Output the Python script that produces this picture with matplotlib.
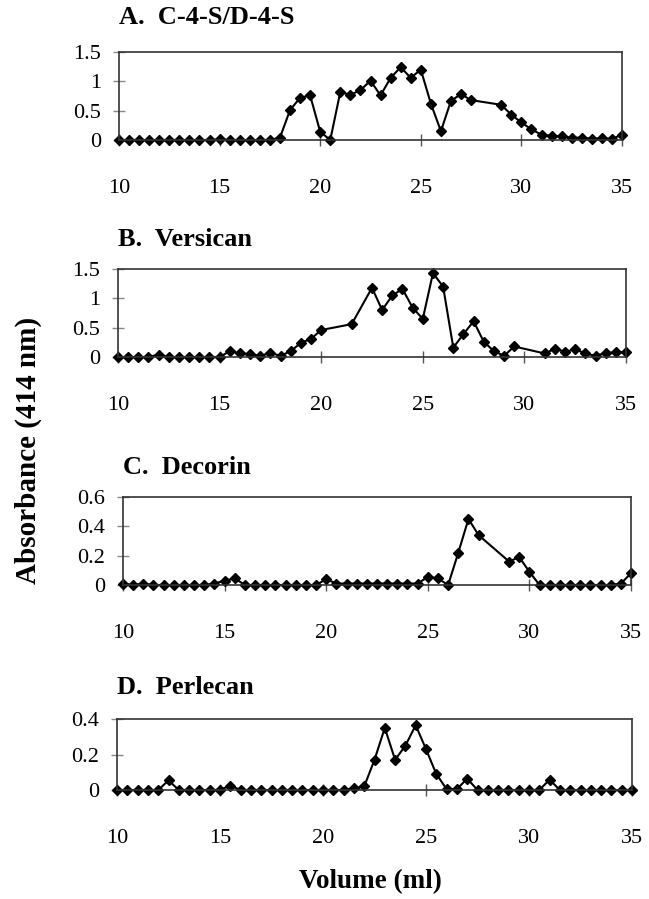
"""
Gel-filtration profiles (absorbance at 414 nm) for four proteoglycan fractions.
"""
import matplotlib
matplotlib.use("Agg")
from matplotlib import pyplot as plt

plt.rcParams['font.family'] = ['Liberation Serif', 'DejaVu Serif']

# panel A: C-4-S/D-4-S
vol_a = [10, 10.5, 11, 11.5, 12, 12.5, 13, 13.5, 14, 14.5, 15, 15.5, 16, 16.5, 17, 17.5,
         18, 18.5, 19, 19.5, 20, 20.5, 21, 21.5, 22, 22.5, 23, 23.5, 24, 24.5, 25, 25.5,
         26, 26.5, 27, 27.5, 29, 29.5, 30, 30.5, 31, 31.5, 32, 32.5, 33, 33.5, 34, 34.5, 35]
abs_a = [0, 0, 0, 0, 0, 0, 0, 0, 0, 0, 0.01, 0, 0, 0, 0, 0,
         0.04, 0.51, 0.72, 0.76, 0.14, 0, 0.82, 0.77, 0.85, 1.01, 0.76, 1.06, 1.24, 1.06, 1.2, 0.62,
         0.15, 0.67, 0.78, 0.68, 0.6, 0.43, 0.3, 0.18, 0.09, 0.07, 0.06, 0.04, 0.04, 0.02, 0.03, 0.02, 0.09]

# panel B: versican
vol_b = [10, 10.5, 11, 11.5, 12, 12.5, 13, 13.5, 14, 14.5, 15, 15.5, 16, 16.5, 17, 17.5,
         18, 18.5, 19, 19.5, 20, 21.5, 22.5, 23, 23.5, 24, 24.5, 25, 25.5, 26, 26.5, 27,
         27.5, 28, 28.5, 29, 29.5, 31, 31.5, 32, 32.5, 33, 33.5, 34, 34.5, 35]
abs_b = [0, 0, 0, 0, 0.04, 0, 0, 0, 0, 0, 0, 0.1, 0.06, 0.05, 0.02, 0.07,
         0.02, 0.1, 0.24, 0.31, 0.46, 0.56, 1.18, 0.8, 1.05, 1.16, 0.84, 0.65, 1.43, 1.2, 0.16, 0.39,
         0.61, 0.26, 0.1, 0.02, 0.18, 0.06, 0.14, 0.09, 0.13, 0.06, 0.02, 0.07, 0.08, 0.08]

# panel C: decorin
vol_c = vol_a
abs_c = [0.01, 0, 0.01, 0, 0, 0, 0, 0, 0, 0.01, 0.03, 0.045, 0, 0, 0, 0,
         0, 0, 0, 0, 0.04, 0.01, 0.01, 0.01, 0.01, 0.01, 0.01, 0.01, 0.01, 0.01, 0.055, 0.045,
         0, 0.22, 0.45, 0.34, 0.16, 0.19, 0.09, 0, 0, 0, 0, 0, 0, 0, 0, 0.01, 0.08]

# panel D: perlecan
vol_d = [10, 10.5, 11, 11.5, 12, 12.5, 13, 13.5, 14, 14.5, 15, 15.5, 16, 16.5, 17, 17.5,
         18, 18.5, 19, 19.5, 20, 20.5, 21, 21.5, 22, 22.5, 23, 23.5, 24, 24.5, 25, 25.5,
         26, 26.5, 27, 27.5, 28, 28.5, 29, 29.5, 30, 30.5, 31, 31.5, 32, 32.5, 33, 33.5,
         34, 34.5, 35]
abs_d = [0, 0, 0, 0, 0, 0.054, 0, 0, 0, 0, 0, 0.025, 0, 0, 0, 0,
         0, 0, 0, 0, 0, 0, 0, 0.01, 0.02, 0.17, 0.35, 0.17, 0.25, 0.365, 0.23, 0.09,
         0.005, 0.005, 0.064, 0, 0, 0, 0, 0, 0, 0, 0.058, 0, 0, 0, 0, 0,
         0, 0, 0]

titles = ["A.  C-4-S/D-4-S", "B.  Versican", "C.  Decorin", "D.  Perlecan"]
yticks = [[0, 0.5, 1, 1.5], [0, 0.5, 1, 1.5], [0, 0.2, 0.4, 0.6], [0, 0.2, 0.4]]
ytick_labels = [["0", "0.5", "1", "1.5"], ["0", "0.5", "1", "1.5"],
                ["0", "0.2", "0.4", "0.6"], ["0", "0.2", "0.4"]]
xticks = [10, 15, 20, 25, 30, 35]
series = [(vol_a, abs_a), (vol_b, abs_b), (vol_c, abs_c), (vol_d, abs_d)]

W, H = 649, 899
# axes boxes in pixels: left, right, top, bottom; then title centre y
boxes = [(119, 622, 52, 140), (118, 626, 269, 357), (123, 631, 497, 585), (117, 632, 719, 790)]
title_y = [18, 240, 467, 688]

fig = plt.figure(figsize=(W / 100, H / 100), dpi=100)

for (vx, vy), box, title, ty, yt, ytl in zip(series, boxes, titles, title_y, yticks, ytick_labels):
    l, r, t, b = box
    ax = fig.add_axes([l / W, 1 - b / H, (r - l) / W, (b - t) / H])
    ax.plot(vx, vy, color='black', lw=1.5, marker='D', markersize=5.2, clip_on=False)
    ax.set_xlim(10, 35)
    ax.set_ylim(0, yt[-1])
    ax.set_xticks(xticks)
    ax.set_xticklabels([str(x) for x in xticks])
    ax.set_yticks(yt)
    ax.set_yticklabels(ytl)
    ax.tick_params(axis='x', direction='inout', length=8, width=1, color='#555555',
                   labelsize=16, pad=24)
    ax.tick_params(axis='y', direction='inout', length=8, width=1, color='#888888',
                   labelsize=16, pad=9)
    for s in ax.spines.values():
        s.set_color('#333333')
        s.set_linewidth(1.2)
    fig.text(l / W, 1 - ty / H, title, fontsize=19, fontweight='bold',
             ha='left', va='center')

fig.text(370 / W, 1 - 882 / H, "Volume (ml)", fontsize=19.5, fontweight='bold',
         ha='center', va='center')
fig.text(28 / W, 1 - 450 / H, "Absorbance (414 nm)", fontsize=21, fontweight='bold',
         ha='center', va='center', rotation=90)

plt.savefig("out.png", dpi=100)
